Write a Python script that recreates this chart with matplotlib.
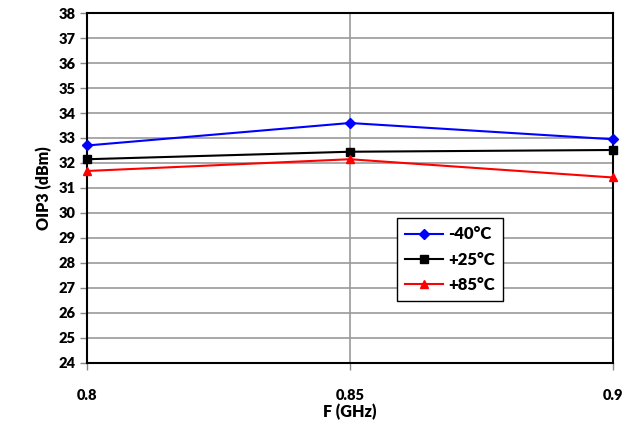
import matplotlib
matplotlib.use("Agg")
import matplotlib.pyplot as plt

freq = [0.8, 0.85, 0.9]
oip3_m40 = [32.7, 33.6, 32.95]
oip3_p25 = [32.15, 32.45, 32.52]
oip3_p85 = [31.68, 32.15, 31.42]
labels = ["-40°C", "+25°C", "+85°C"]
yticks = list(range(24, 39))
xticks = [0.8, 0.85, 0.9]
xticklabels = ["0.8", "0.85", "0.9"]

plt.rcParams['font.family'] = ['Lato', 'DejaVu Sans']
W = 'heavy'

fig = plt.figure(figsize=(6.24, 4.21), dpi=100)
ax = fig.add_axes([0.1394, 0.138, 0.8426, 0.831])

ax.plot(freq, oip3_m40, color='#0000ff', marker='D', markersize=5, lw=1.5, label=labels[0], clip_on=False, zorder=5)
ax.plot(freq, oip3_p25, color='black', marker='s', markersize=6, lw=1.5, label=labels[1], clip_on=False, zorder=5)
ax.plot(freq, oip3_p85, color='#ff0000', marker='^', markersize=6, lw=1.5, label=labels[2], clip_on=False, zorder=5)

ax.set_xlim(0.8, 0.9)
ax.set_ylim(24, 38)
ax.set_xticks(xticks)
ax.set_xticklabels(xticklabels)
ax.set_yticks(yticks)
ax.grid(True, color='#999999', lw=1.2)
ax.set_axisbelow(True)
for s in ax.spines.values():
    s.set_linewidth(1.5)
    s.set_color('black')
ax.tick_params(axis='x', direction='out', length=5, pad=14, labelsize=10.5, width=1, color='#888888')
ax.tick_params(axis='y', direction='out', length=5, pad=3, labelsize=10.5, width=1, color='#888888')
for lab in ax.get_xticklabels() + ax.get_yticklabels():
    lab.set_fontweight(W)

ax.set_xlabel("F (GHz)", fontsize=11.5, fontweight=W, labelpad=1)
ax.set_ylabel("OIP3 (dBm)", fontsize=11.5, fontweight=W, labelpad=5)

leg = ax.legend(loc='upper left', bbox_to_anchor=(0.589, 0.414),
                fancybox=False, framealpha=1, edgecolor='black',
                prop={'weight': W, 'size': 12}, handlelength=2.3, handletextpad=0.3,
                borderpad=0.5, labelspacing=0.55, borderaxespad=0)
leg.get_frame().set_linewidth(1.0)

fig.savefig("out.png", dpi=100)
